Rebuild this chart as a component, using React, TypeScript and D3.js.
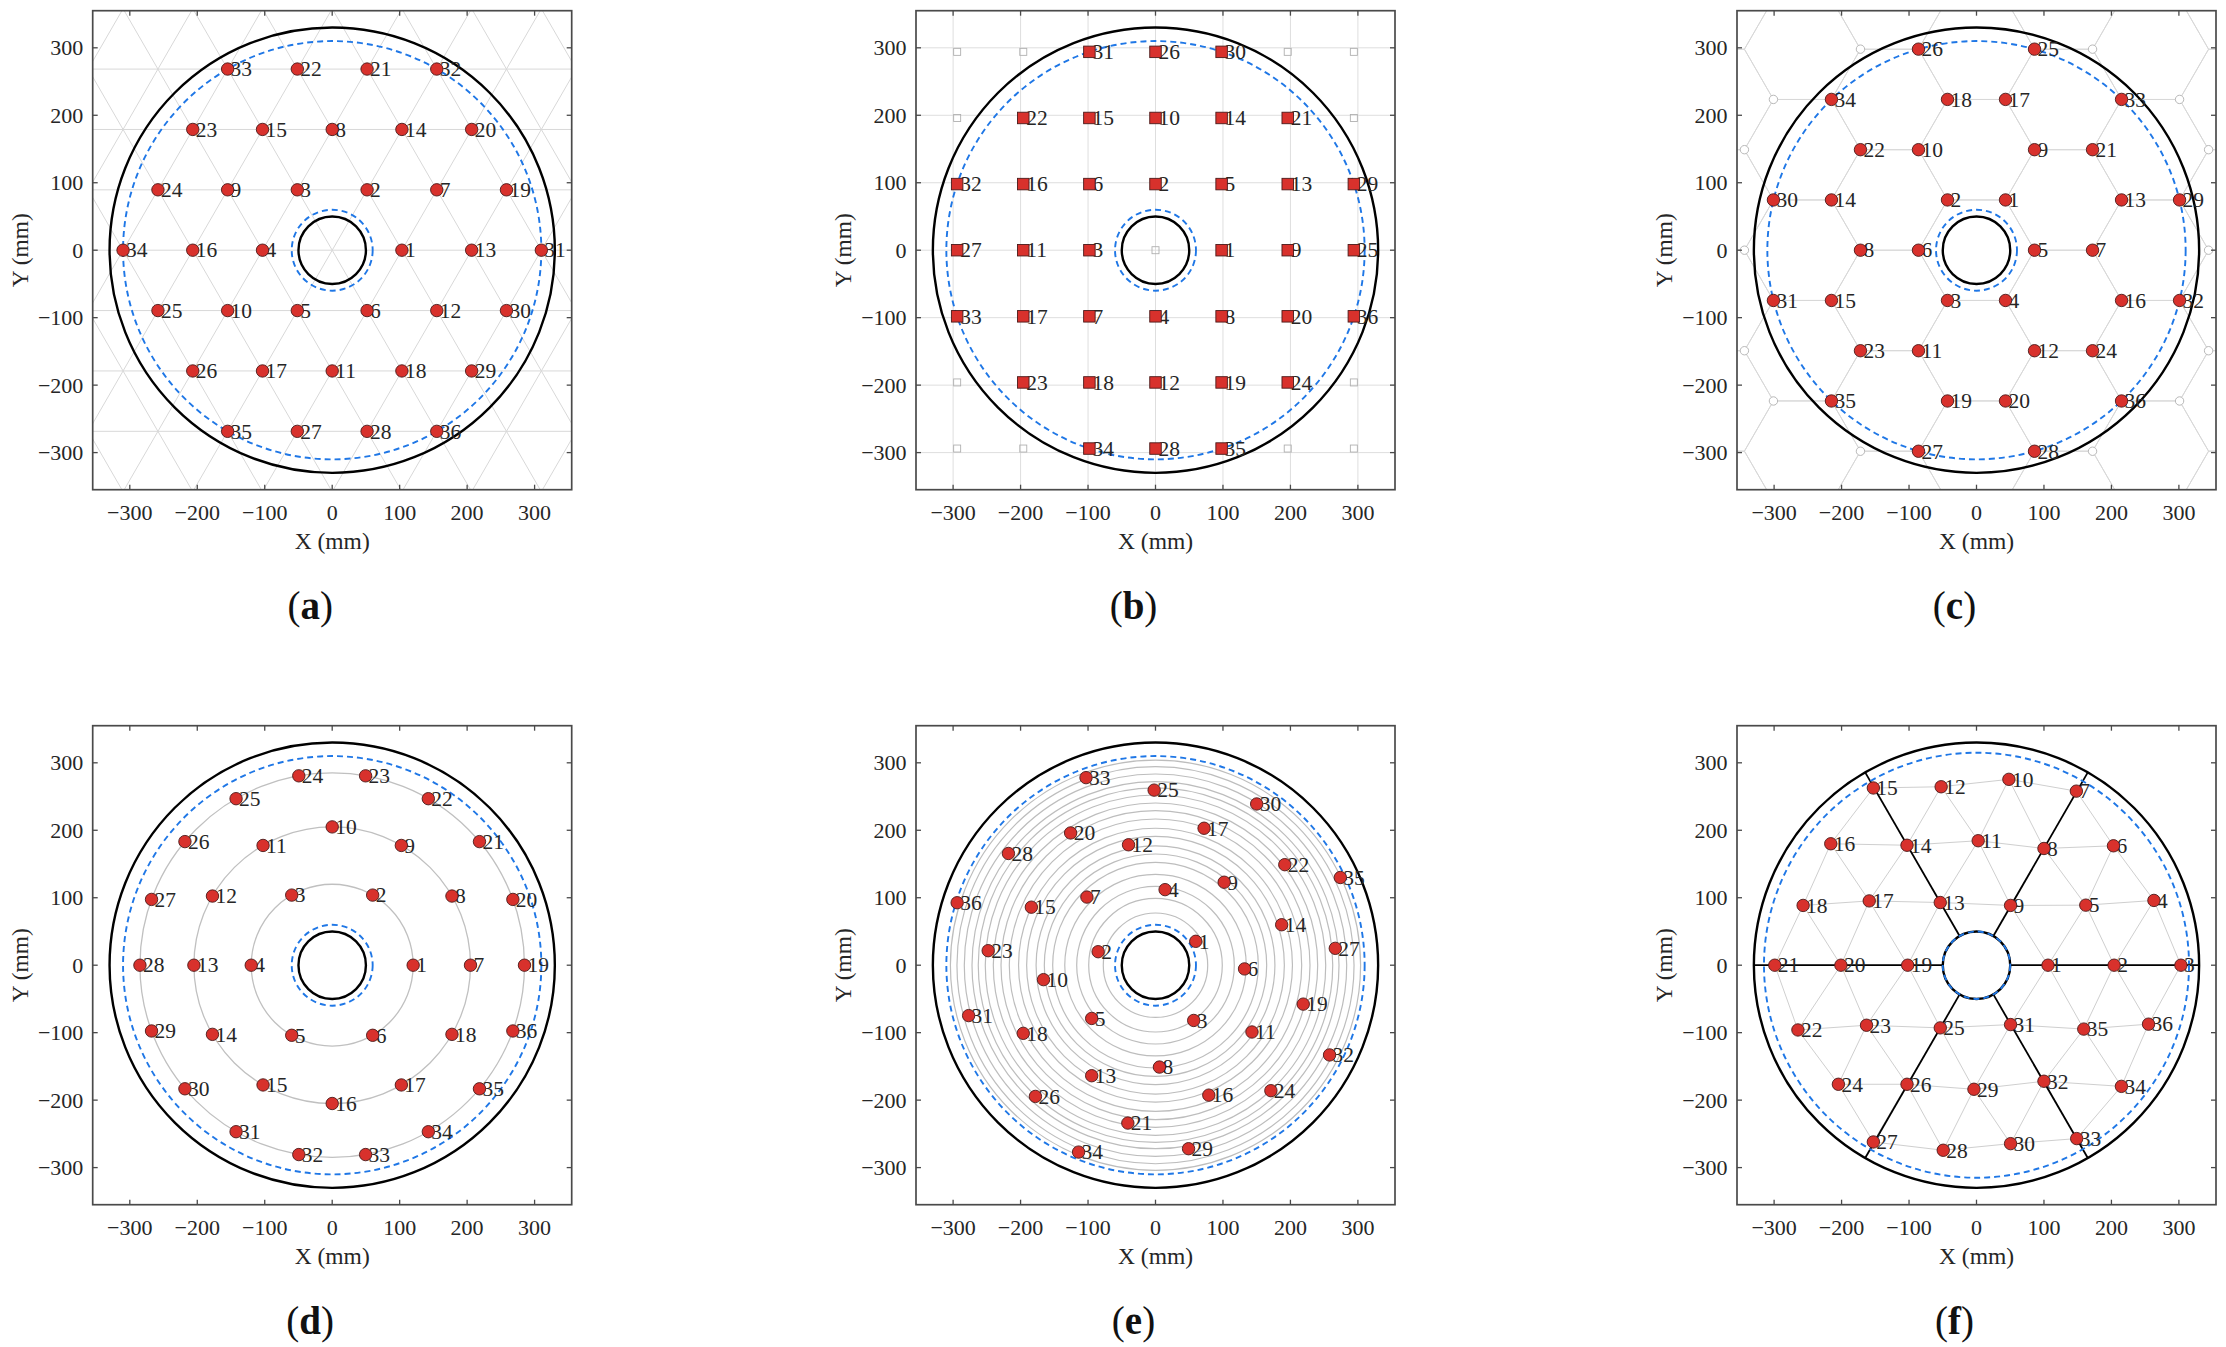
import React from 'react';
import * as d3 from 'd3';

type Pt = [number, number, number];
type XY = [number, number];

// ---------- data ----------
const tickValues = [-300, -200, -100, 0, 100, 200, 300];
const panelLetters = ['a', 'b', 'c', 'd', 'e', 'f'];

// (a) triangular lattice
const pointsA: Pt[] = [
  [33, -155, 268.5], [22, -51.7, 268.5], [21, 51.7, 268.5], [32, 155, 268.5],
  [23, -206.7, 179], [15, -103.3, 179], [8, 0, 179], [14, 103.3, 179], [20, 206.7, 179],
  [24, -258.3, 89.5], [9, -155, 89.5], [3, -51.7, 89.5], [2, 51.7, 89.5], [7, 155, 89.5], [19, 258.3, 89.5],
  [34, -310, 0], [16, -206.7, 0], [4, -103.3, 0], [1, 103.3, 0], [13, 206.7, 0], [31, 310, 0],
  [25, -258.3, -89.5], [10, -155, -89.5], [5, -51.7, -89.5], [6, 51.7, -89.5], [12, 155, -89.5], [30, 258.3, -89.5],
  [26, -206.7, -179], [17, -103.3, -179], [11, 0, -179], [18, 103.3, -179], [29, 206.7, -179],
  [35, -155, -268.5], [27, -51.7, -268.5], [28, 51.7, -268.5], [36, 155, -268.5],
];
const latticeSpacingA = 103.33;

// (b) square lattice
const pointsB: Pt[] = [
  [31, -98, 294], [26, 0, 294], [30, 98, 294],
  [22, -196, 196], [15, -98, 196], [10, 0, 196], [14, 98, 196], [21, 196, 196],
  [32, -294, 98], [16, -196, 98], [6, -98, 98], [2, 0, 98], [5, 98, 98], [13, 196, 98], [29, 294, 98],
  [27, -294, 0], [11, -196, 0], [3, -98, 0], [1, 98, 0], [9, 196, 0], [25, 294, 0],
  [33, -294, -98], [17, -196, -98], [7, -98, -98], [4, 0, -98], [8, 98, -98], [20, 196, -98], [36, 294, -98],
  [23, -196, -196], [18, -98, -196], [12, 0, -196], [19, 98, -196], [24, 196, -196],
  [34, -98, -294], [28, 0, -294], [35, 98, -294],
];
const unusedB: XY[] = [
  [-294, 294], [-196, 294], [196, 294], [294, 294], [-294, 196], [294, 196], [0, 0],
  [-294, -196], [294, -196], [-294, -294], [-196, -294], [196, -294], [294, -294],
];

// (c) honeycomb lattice
const pointsC: Pt[] = [
  [26, -86, 298], [25, 86, 298],
  [34, -215, 223.5], [18, -43, 223.5], [17, 43, 223.5], [33, 215, 223.5],
  [22, -172, 149], [10, -86, 149], [9, 86, 149], [21, 172, 149],
  [30, -301, 74.5], [14, -215, 74.5], [2, -43, 74.5], [1, 43, 74.5], [13, 215, 74.5], [29, 301, 74.5],
  [8, -172, 0], [6, -86, 0], [5, 86, 0], [7, 172, 0],
  [31, -301, -74.5], [15, -215, -74.5], [3, -43, -74.5], [4, 43, -74.5], [16, 215, -74.5], [32, 301, -74.5],
  [23, -172, -149], [11, -86, -149], [12, 86, -149], [24, 172, -149],
  [35, -215, -223.5], [19, -43, -223.5], [20, 43, -223.5], [36, 215, -223.5],
  [27, -86, -298], [28, 86, -298],
];
const unusedC: XY[] = [
  [-172, 298], [172, 298], [-301, 223.5], [301, 223.5], [-344, 149], [344, 149], [-344, 0], [344, 0],
  [-344, -149], [344, -149], [-301, -223.5], [301, -223.5], [-172, -298], [172, -298],
];
const hexEdgeC = 86;

// (d) concentric rings
const pointsD: Pt[] = [
  [1, 120, 0], [2, 60, 103.9], [3, -60, 103.9], [4, -120, 0], [5, -60, -103.9], [6, 60, -103.9],
  [7, 205, 0], [8, 177.5, 102.5], [9, 102.5, 177.5], [10, 0, 205], [11, -102.5, 177.5], [12, -177.5, 102.5],
  [13, -205, 0], [14, -177.5, -102.5], [15, -102.5, -177.5], [16, 0, -205], [17, 102.5, -177.5], [18, 177.5, -102.5],
  [19, 285, 0], [20, 267.8, 97.5], [21, 218.3, 183.2], [22, 142.5, 246.8], [23, 49.5, 280.7], [24, -49.5, 280.7],
  [25, -142.5, 246.8], [26, -218.3, 183.2], [27, -267.8, 97.5], [28, -285, 0], [29, -267.8, -97.5], [30, -218.3, -183.2],
  [31, -142.5, -246.8], [32, -49.5, -280.7], [33, 49.5, -280.7], [34, 142.5, -246.8], [35, 218.3, -183.2], [36, 267.8, -97.5],
];
const ringsD = [120, 205, 285];

// (e) spiral arrangement
const pointsE: Pt[] = [
  [1, 59.7, 35.4], [2, -85, 20], [3, 56.6, -81.9], [4, 14.2, 112], [5, -94.6, -78.9], [6, 132, -5.5],
  [7, -101.7, 101], [8, 5.8, -151], [9, 101.8, 123], [10, -166, -21.4], [11, 143, -99], [12, -40, 178.5],
  [13, -94.6, -163.8], [14, 187, 60], [15, -184, 86], [16, 79, -192.6], [17, 72, 203], [18, -196, -101],
  [19, 219, -57.7], [20, -125.8, 196], [21, -41, -234], [22, 191.6, 149], [23, -248, 21.5], [24, 171, -186],
  [25, -2, 259.5], [26, -178, -194.5], [27, 266.5, 25], [28, -218, 165.6], [29, 49, -272], [30, 150, 239],
  [31, -277, -74.7], [32, 258, -133], [33, -103, 278], [34, -114, -277], [35, 274, 130], [36, -294, 92.6],
];
const ringsE = [77.4, 99, 116.8, 134.5, 152.4, 164.8, 177, 191, 203, 216.7, 229, 240.4, 252.3, 262.7, 272,
  283.4, 294.3, 304];

// (f) sector lattice
const pointsF: Pt[] = [
  [1, 106, 0], [2, 204, 0], [3, 303, 0], [4, 263, 96], [5, 162, 89], [6, 203, 177],
  [7, 148, 258], [8, 100, 173], [9, 50.5, 88.6], [10, 48, 275.5], [11, 2.5, 184.5], [12, -52.4, 264.5],
  [13, -53.7, 92.9], [14, -103, 177.8], [15, -152.9, 262.7], [16, -216, 180], [17, -159, 95.3], [18, -257, 88.6],
  [19, -102, 0], [20, -201, 0], [21, -299, 0], [22, -264.7, -96], [23, -163, -89], [24, -204.7, -176.5],
  [25, -53.7, -92.9], [26, -103, -176.5], [27, -152.9, -262], [28, -49.3, -274.3], [29, -3.8, -183.9], [30, 50.5, -264.5],
  [31, 50.5, -88], [32, 100, -172], [33, 148.5, -257], [34, 214.8, -179.6], [35, 159, -94.7], [36, 255, -87.4],
];
const sectorAnglesF = [0, 60, 120, 180, 240, 300];

// boundary radii (mm)
const outerR = 330;
const innerR = 50;
const dashOuterR = [310, 310, 310, 310, 310, 315];
const dashInnerR = [60, 60, 60, 60, 60, 50];

// ---------- layout ----------
const SIZE = 479;
const DOM = 355;
const colLeft = [92.7, 916, 1737];
const rowTop = [10.7, 725.7];
const FONT = "'Liberation Serif', 'Times New Roman', 'DejaVu Serif', serif";
const TXT = '#262626';
const RED = '#d8312c';
const RED_EDGE = '#4a1a1a';
const BLUE = '#1f77e6';
const GRID = '#d8d8d8';

const x = d3.scaleLinear().domain([-DOM, DOM]).range([0, SIZE]);
const y = d3.scaleLinear().domain([-DOM, DOM]).range([SIZE, 0]);
const rpx = (r: number) => x(r) - x(0);
const fmt = (v: number) => (v < 0 ? `\u2212${Math.abs(v)}` : `${v}`);

function seg(x1: number, y1: number, x2: number, y2: number) {
  return `M${x(x1)},${y(y1)}L${x(x2)},${y(y2)}`;
}

function latticeA(): string {
  const a = latticeSpacingA;
  const h = (a * Math.sqrt(3)) / 2;
  let d = '';
  for (let k = -4; k <= 4; k++) d += seg(-420, k * h, 420, k * h);
  const L = 600;
  const c = Math.cos(Math.PI / 3), s = Math.sin(Math.PI / 3);
  for (let n = -12; n <= 12; n++) {
    const x0 = n * a;
    d += seg(x0 - L * c, -L * s, x0 + L * c, L * s);
    d += seg(x0 + L * c, -L * s, x0 - L * c, L * s);
  }
  return d;
}

function gridB(): string {
  let d = '';
  tickValues.forEach((t) => {
    d += seg(t, -DOM, t, DOM);
    d += seg(-DOM, t, DOM, t);
  });
  return d;
}

function honeycombC(): string {
  const a = hexEdgeC;
  const h = (a * Math.sqrt(3)) / 2;
  let d = '';
  for (let i = -5; i <= 5; i++) {
    for (let j = -4; j <= 4; j++) {
      const cx = i * 1.5 * a;
      const cy = j * 2 * h + (Math.abs(i) % 2 === 1 ? h : 0);
      const pts = d3.range(6).map((k) => [cx + a * Math.cos((k * Math.PI) / 3), cy + a * Math.sin((k * Math.PI) / 3)]);
      d += 'M' + pts.map((p) => `${x(p[0])},${y(p[1])}`).join('L') + 'Z';
    }
  }
  return d;
}

function meshF(): string {
  const del = d3.Delaunay.from(pointsF, (p) => p[1], (p) => p[2]);
  const seen = new Set<string>();
  let d = '';
  const tri = del.triangles;
  for (let t = 0; t < tri.length; t += 3) {
    const ids = [tri[t], tri[t + 1], tri[t + 2]];
    for (let e = 0; e < 3; e++) {
      const i = ids[e], j = ids[(e + 1) % 3];
      const key = i < j ? `${i}-${j}` : `${j}-${i}`;
      if (seen.has(key)) continue;
      seen.add(key);
      const p = pointsF[i], q = pointsF[j];
      if (Math.hypot(p[1] - q[1], p[2] - q[2]) < 140) d += seg(p[1], p[2], q[1], q[2]);
    }
  }
  return d;
}

function Frame() {
  const tl = 5;
  return (
    <g>
      <rect x={0} y={0} width={SIZE} height={SIZE} fill="none" stroke="#4a4a4a" strokeWidth={1.7} />
      {tickValues.map((t) => (
        <g key={t} stroke="#4a4a4a" strokeWidth={1.3}>
          <line x1={x(t)} x2={x(t)} y1={SIZE} y2={SIZE - tl} />
          <line x1={x(t)} x2={x(t)} y1={0} y2={tl} />
          <line x1={0} x2={tl} y1={y(t)} y2={y(t)} />
          <line x1={SIZE} x2={SIZE - tl} y1={y(t)} y2={y(t)} />
        </g>
      ))}
      {tickValues.map((t) => (
        <text key={'x' + t} x={x(t)} y={SIZE + 23} dy="0.35em" textAnchor="middle" fontSize={22} fill={TXT} style={{ fontFamily: FONT }}>
          {fmt(t)}
        </text>
      ))}
      {tickValues.map((t) => (
        <text key={'y' + t} x={-9.4} y={y(t)} dy="0.35em" textAnchor="end" fontSize={22} fill={TXT} style={{ fontFamily: FONT }}>
          {fmt(t)}
        </text>
      ))}
      <text x={SIZE / 2} y={SIZE + 51} dy="0.35em" textAnchor="middle" fontSize={23.5} fill={TXT} style={{ fontFamily: FONT }}>
        X (mm)
      </text>
      <text transform={`translate(${-73},${SIZE / 2}) rotate(-90)`} dy="0.35em" textAnchor="middle" fontSize={23.5} fill={TXT} style={{ fontFamily: FONT }}>
        Y (mm)
      </text>
    </g>
  );
}

function Boundary({ idx }: { idx: number }) {
  return (
    <g fill="none">
      <circle cx={x(0)} cy={y(0)} r={rpx(outerR)} stroke="#000" strokeWidth={2.4} />
      <circle cx={x(0)} cy={y(0)} r={rpx(innerR)} stroke="#000" strokeWidth={2.4} />
      <circle cx={x(0)} cy={y(0)} r={rpx(dashOuterR[idx])} stroke={BLUE} strokeWidth={1.9} strokeDasharray="6,4" />
      <circle cx={x(0)} cy={y(0)} r={rpx(dashInnerR[idx])} stroke={BLUE} strokeWidth={1.9} strokeDasharray="6,4" />
    </g>
  );
}

function Labels({ pts }: { pts: Pt[] }) {
  return (
    <g fontSize={21.5} fill={TXT} style={{ fontFamily: FONT }}>
      {pts.map((p) => (
        <text key={p[0]} x={x(p[1]) + 3} y={y(p[2])} dy="0.34em">
          {p[0]}
        </text>
      ))}
    </g>
  );
}

function Dots({ pts, square }: { pts: Pt[]; square?: boolean }) {
  const s = 11.5;
  return (
    <g fill={RED} stroke={RED_EDGE} strokeWidth={0.9}>
      {pts.map((p) =>
        square ? (
          <rect key={p[0]} x={x(p[1]) - s / 2} y={y(p[2]) - s / 2} width={s} height={s} />
        ) : (
          <circle key={p[0]} cx={x(p[1])} cy={y(p[2])} r={6.2} />
        )
      )}
    </g>
  );
}

function PanelContent({ idx }: { idx: number }) {
  const clip = `url(#clip-${idx})`;
  if (idx === 0) {
    return (
      <g>
        <path d={latticeA()} stroke={GRID} strokeWidth={1} fill="none" clipPath={clip} />
        <Boundary idx={idx} />
        <Labels pts={pointsA} />
        <Dots pts={pointsA} />
      </g>
    );
  }
  if (idx === 1) {
    return (
      <g>
        <path d={gridB()} stroke="#dedede" strokeWidth={1} fill="none" clipPath={clip} />
        <g fill="none" stroke="#b0b0b0" strokeWidth={0.9}>
          {unusedB.map((p, i) => (
            <rect key={i} x={x(p[0]) - 3.5} y={y(p[1]) - 3.5} width={7} height={7} />
          ))}
        </g>
        <Boundary idx={idx} />
        <Labels pts={pointsB} />
        <Dots pts={pointsB} square />
      </g>
    );
  }
  if (idx === 2) {
    return (
      <g>
        <path d={honeycombC()} stroke={GRID} strokeWidth={1} fill="none" clipPath={clip} />
        <g fill="#fff" stroke="#b0b0b0" strokeWidth={0.9}>
          {unusedC.map((p, i) => (
            <circle key={i} cx={x(p[0])} cy={y(p[1])} r={4.2} />
          ))}
        </g>
        <Boundary idx={idx} />
        <Labels pts={pointsC} />
        <Dots pts={pointsC} />
      </g>
    );
  }
  if (idx === 3) {
    return (
      <g>
        <g fill="none" stroke="#c0c0c0" strokeWidth={1.3}>
          {ringsD.map((r) => (
            <circle key={r} cx={x(0)} cy={y(0)} r={rpx(r)} />
          ))}
        </g>
        <Boundary idx={idx} />
        <Labels pts={pointsD} />
        <Dots pts={pointsD} />
      </g>
    );
  }
  if (idx === 4) {
    return (
      <g>
        <g fill="none" stroke="#bdbdbd" strokeWidth={1.2}>
          {ringsE.map((r) => (
            <circle key={r} cx={x(0)} cy={y(0)} r={rpx(r)} />
          ))}
        </g>
        <Boundary idx={idx} />
        <Labels pts={pointsE} />
        <Dots pts={pointsE} />
      </g>
    );
  }
  return (
    <g>
      <path d={meshF()} stroke="#cfcfcf" strokeWidth={1} fill="none" />
      <g stroke="#000" strokeWidth={1.8}>
        {sectorAnglesF.map((a) => {
          const t = (a * Math.PI) / 180;
          return (
            <path key={a} d={seg(innerR * Math.cos(t), innerR * Math.sin(t), outerR * Math.cos(t), outerR * Math.sin(t))} />
          );
        })}
      </g>
      <Boundary idx={idx} />
      <Labels pts={pointsF} />
      <Dots pts={pointsF} />
    </g>
  );
}

export default function App() {
  return (
    <svg
      width={2226}
      height={1347}
      viewBox="0 0 2226 1347"
      style={{ position: 'absolute', left: 0, top: 0, background: '#fff' }}
    >
      <rect width={2226} height={1347} fill="#fff" />
      <defs>
        {panelLetters.map((_, i) => (
          <clipPath key={i} id={`clip-${i}`}>
            <rect x={0} y={0} width={SIZE} height={SIZE} />
          </clipPath>
        ))}
      </defs>
      {panelLetters.map((letter, i) => {
        const left = colLeft[i % 3];
        const top = rowTop[Math.floor(i / 3)];
        return (
          <g key={letter} transform={`translate(${left},${top})`}>
            <PanelContent idx={i} />
            <Frame />
            <text x={SIZE / 2 - 22} y={SIZE + 116} dy="0.35em" textAnchor="middle" fontSize={39} fill="#111" style={{ fontFamily: FONT }}>
              (<tspan fontWeight="bold">{letter}</tspan>)
            </text>
          </g>
        );
      })}
    </svg>
  );
}
